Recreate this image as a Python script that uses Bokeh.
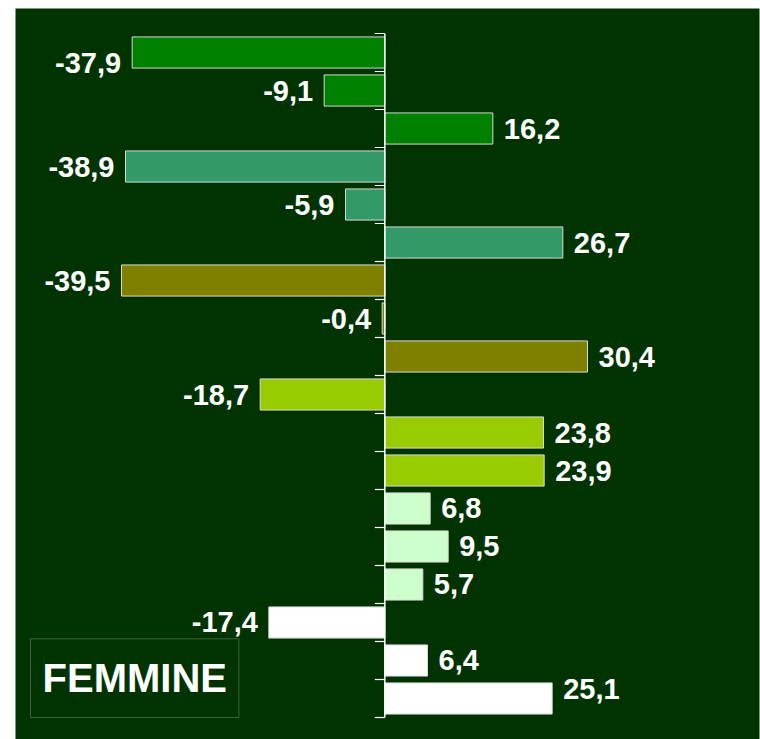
from bokeh.plotting import figure
from bokeh.models import ColumnDataSource, BoxAnnotation, Label, Range1d
from bokeh.embed import file_html
from bokeh.resources import INLINE
from bokeh.core.properties import value

# ---- data (top to bottom) ----
values = [-37.9, -9.1, 16.2,
          -38.9, -5.9, 26.7,
          -39.5, -0.4, 30.4,
          -18.7, 23.8, 23.9,
          6.8, 9.5, 5.7,
          -17.4, 6.4, 25.1]
title_text = "FEMMINE"

# ---- styles ----
group_palette = ["#008000", "#339966", "#808000", "#99CC00", "#CCFFCC", "#FFFFFF"]
BG = "#003300"
FONT = "Liberation Sans"
# label nudges (px) as in the original: first pushed down, last pushed up
label_dy = [10] + [0] * 16 + [-9]

n = len(values)
ypos = [n - 1 - i for i in range(n)]
colors = [group_palette[i // 3] for i in range(n)]
labels = [f"{v:.1f}".replace(".", ",") for v in values]

src = ColumnDataSource(dict(
    y=ypos, right=values, left=[0] * n, color=colors, label=labels,
))

p = figure(width=760, height=739, output_backend="svg", toolbar_location=None,
           x_range=Range1d(-55.4, 56.2), y_range=Range1d(-1.079, n - 1 + 1.158),
           min_border_left=15, min_border_right=1, min_border_top=8, min_border_bottom=0)
p.background_fill_color = BG
p.border_fill_color = "white"
p.outline_line_color = None
p.xaxis.visible = False
p.yaxis.visible = False
p.xgrid.visible = False
p.ygrid.visible = False

p.hbar(y="y", left="left", right="right", height=0.82, fill_color="color",
       line_color="#D8D8D8", line_width=1, source=src)

# axis line and ticks at category boundaries
bounds = [k - 0.5 for k in range(n + 1)]
p.segment(x0=[0], x1=[0], y0=[bounds[0]], y1=[bounds[-1]], line_color="white", line_width=1.5)
p.segment(x0=[-1.5] * len(bounds), x1=[0] * len(bounds), y0=bounds, y1=bounds,
          line_color="white", line_width=1.2)

def subset(cond):
    idx = [i for i, v in enumerate(values) if cond(v)]
    return ColumnDataSource(dict(x=[values[i] for i in idx], y=[ypos[i] for i in idx],
                                 t=[labels[i] for i in idx], dy=[label_dy[i] for i in idx]))

pos = subset(lambda v: v >= 0)
neg = subset(lambda v: v < 0)
common = dict(text="t", text_color="white", text_font=value(FONT), text_font_style="bold",
              text_font_size="29px", text_baseline="middle", y_offset="dy")
p.text(x="x", y="y", x_offset=11, text_align="left", source=pos, **common)
p.text(x="x", y="y", x_offset=-11, text_align="right", source=neg, **common)

# title box
p.add_layout(BoxAnnotation(left=-53.15, right=-21.9, bottom=-0.5, top=1.57,
                           fill_color=BG, fill_alpha=1, line_color="#D0D0D0", line_width=1))
p.add_layout(Label(x=-37.5, y=0.53, text=title_text, text_color="white",
                   text_font=FONT, text_font_style="bold", text_font_size="40px",
                   text_align="center", text_baseline="middle"))

open("out.html", "w").write(file_html(p, INLINE))
